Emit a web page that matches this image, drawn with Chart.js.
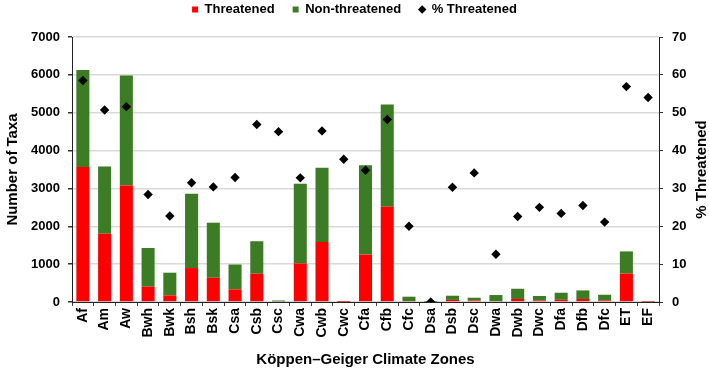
<!DOCTYPE html>
<html>
<head>
<meta charset="utf-8">
<script src="https://cdn.jsdelivr.net/npm/chart.js@4/dist/chart.umd.min.js"></script>
<style>
  html, body { margin: 0; padding: 0; background: #fff; }
  #wrap { width: 709px; height: 381px; }
</style>
</head>
<body>
<div id="wrap"><canvas id="c" width="709" height="381"></canvas></div>
<script>
// ─── Data ────────────────────────────────────────────────────────────────────
const zones = ['Af','Am','Aw','Bwh','Bwk','Bsh','Bsk','Csa','Csb','Csc','Cwa','Cwb','Cwc','Cfa','Cfb',
  'Cfc','Dsa','Dsb','Dsc','Dwa','Dwb','Dwc','Dfa','Dfb','Dfc','ET','EF'];
const threatened    = [3566, 1804, 3080, 404, 175, 897, 640, 333, 747, 18, 1018, 1587, 4, 1253, 2517,
  25, 0, 55, 40, 22, 80, 40, 58, 80, 40, 750, 8];
const nonThreatened = [2562, 1778, 2905, 1022, 599, 1963, 1455, 657, 858, 22, 2103, 1956, 6, 2360, 2702,
  115, 2, 111, 73, 162, 270, 118, 187, 226, 152, 586, 7];
const pctThreatened = [58.5, 50.7, 51.6, 28.4, 22.7, 31.5, 30.4, 32.9, 46.9, 45.0, 32.8, 45.2, 37.7, 34.8, 48.2,
  20.0, 0, 30.3, 34.1, 12.6, 22.6, 25.0, 23.4, 25.5, 21.1, 56.9, 54.0];
const taxaTicks = [0, 1000, 2000, 3000, 4000, 5000, 6000, 7000];
const pctTicks  = [0, 10, 20, 30, 40, 50, 60, 70];

const FONT = 'Liberation Sans, Arial, sans-serif';
const RED = '#ff0000', GREEN = '#3c7c25';
const LEGEND_ORDER = ['Threatened', 'Non-threatened', '% Threatened'];

// ─── Legend sits right at the top edge; keep the plot top at ~37px ──────────
Chart.register({
  id: 'legendHeight',
  beforeInit(chart) {
    const fit = chart.legend.fit;
    chart.legend.fit = function () { fit.bind(this)(); this.height = 52; };
  }
});

// ─── Right axis title, reading bottom-to-top like the left one ───────────────
Chart.register({
  id: 'rightTitle',
  afterDraw(chart) {
    const { ctx, chartArea } = chart;
    ctx.save();
    ctx.font = `bold 15px ${FONT}`;
    ctx.fillStyle = '#000';
    ctx.textAlign = 'center'; ctx.textBaseline = 'middle';
    ctx.translate(702, (chartArea.top + chartArea.bottom) / 2);
    ctx.rotate(-Math.PI / 2);
    ctx.fillText('% Threatened', 0, 0);
    ctx.restore();
  }
});

new Chart(document.getElementById('c'), {
  type: 'bar',
  data: {
    labels: zones,
    datasets: [
      { label: 'Threatened', data: threatened, backgroundColor: RED, stack: 's',
        pointStyle: 'rect', barPercentage: 0.6, categoryPercentage: 1, order: 2 },
      { label: 'Non-threatened', data: nonThreatened, backgroundColor: GREEN, stack: 's',
        pointStyle: 'rect', barPercentage: 0.6, categoryPercentage: 1, order: 2 },
      { type: 'line', label: '% Threatened', data: pctThreatened, yAxisID: 'y1',
        showLine: false, pointStyle: 'rectRot', pointRadius: 4.7, pointHoverRadius: 4.7,
        backgroundColor: '#000', borderColor: '#000', borderWidth: 0, order: 0 },
    ]
  },
  options: {
    responsive: false, animation: false,
    layout: { padding: { top: -15, left: 0, right: 0, bottom: 0 } },
    plugins: {
      legend: {
        position: 'top',
        labels: {
          usePointStyle: true, boxWidth: 6, boxHeight: 6, padding: 18, color: '#000',
          font: { family: FONT, size: 13, weight: 'bold' },
          sort: (a, b) => LEGEND_ORDER.indexOf(a.text) - LEGEND_ORDER.indexOf(b.text)
        }
      },
      tooltip: { enabled: false }
    },
    scales: {
      x: {
        stacked: true,
        afterFit: s => { s.height = 79; },
        grid: { display: true, drawOnChartArea: false, tickLength: 4, color: '#444', offset: true },
        border: { color: '#222', width: 1 },
        ticks: { color: '#000', autoSkip: false, minRotation: 90, maxRotation: 90, padding: 2,
          font: { family: FONT, size: 14, weight: 'bold' } },
        title: { display: true, text: 'Köppen–Geiger Climate Zones', color: '#000',
          font: { family: FONT, size: 15, weight: 'bold' }, padding: { top: 0, bottom: 12 } }
      },
      y: {
        stacked: true, min: 0, max: 7000,
        afterBuildTicks: s => { s.ticks = taxaTicks.map(v => ({ value: v })); },
        afterFit: s => { s.width = 72; },
        grid: { color: '#d9d9d9', lineWidth: 1.5, tickLength: 4, tickColor: '#333' },
        border: { color: '#222', width: 1 },
        ticks: { color: '#000', padding: 8, callback: v => String(v),
          font: { family: FONT, size: 13, weight: 'bold' } },
        title: { display: true, text: 'Number of Taxa', color: '#000',
          font: { family: FONT, size: 15, weight: 'bold' }, padding: { top: 4, bottom: 0 } }
      },
      y1: {
        position: 'right', min: 0, max: 70,
        afterBuildTicks: s => { s.ticks = pctTicks.map(v => ({ value: v })); },
        afterFit: s => { s.width = 50; },
        grid: { drawOnChartArea: false, tickLength: 4, color: '#333' },
        border: { color: '#222', width: 1 },
        ticks: { color: '#000', padding: 9, font: { family: FONT, size: 13, weight: 'bold' } }
      }
    }
  }
});
</script>
</body>
</html>
